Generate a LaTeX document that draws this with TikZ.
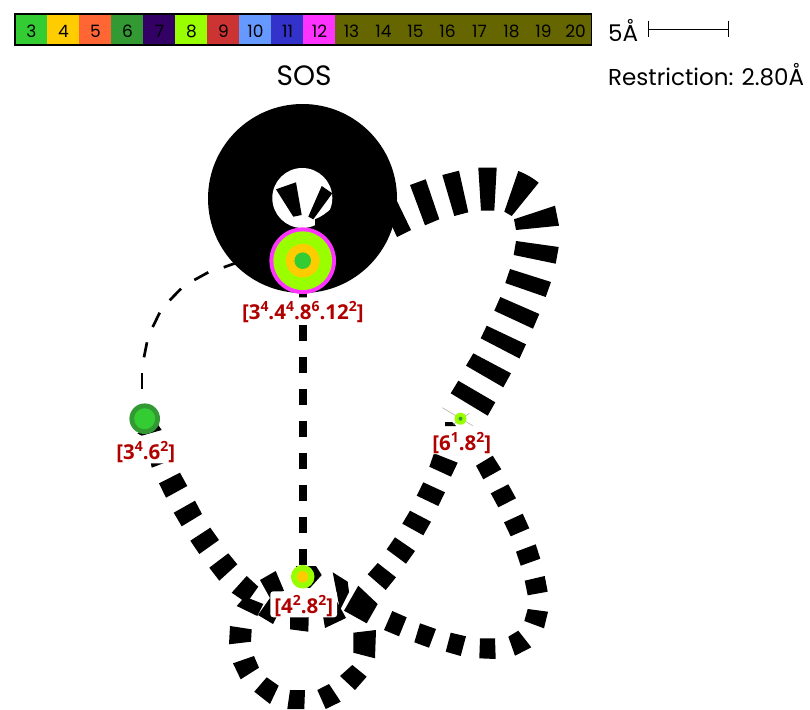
\documentclass[tikz,border=0pt]{standalone}
\usepackage{fontspec}
\setmainfont{Poppins}
\newfontfamily\labelfont{Open Sans}
\definecolor{sides3}{HTML}{33CC33}
\definecolor{sides4}{HTML}{FFCC00}
\definecolor{sides5}{HTML}{FF6633}
\definecolor{sides6}{HTML}{339933}
\definecolor{sides7}{HTML}{330066}
\definecolor{sides8}{HTML}{99FF00}
\definecolor{sides9}{HTML}{CC3333}
\definecolor{sides10}{HTML}{6699FF}
\definecolor{sides11}{HTML}{3333CC}
\definecolor{sides12}{HTML}{FF33FF}
\definecolor{sides13}{HTML}{666600}
\definecolor{vertexred}{HTML}{B00000}
\newcommand{\pw}[1]{\raisebox{0.38em}{\fontsize{14}{14}\selectfont #1}}
\tikzset{
  vertexlabel/.style={fill=white, rounded corners=3pt, anchor=base, text=vertexred, inner xsep=4pt, inner ysep=4pt,
    text height=18pt, text depth=0pt, font=\labelfont\bfseries\fontsize{20.5}{22}\selectfont},
  cellnum/.style={anchor=base, inner sep=0pt, font=\fontsize{17}{17}\selectfont},
  headtext/.style={anchor=base west, inner sep=0pt, font=\fontsize{23}{26}\selectfont}
}
\begin{document}
\begin{tikzpicture}[x=1pt, y=-1pt]
  \useasboundingbox (0,0) rectangle (810,709);
  \foreach \i/\col in {3/3, 4/4, 5/5, 6/6, 7/7, 8/8, 9/9, 10/10, 11/11, 12/12, 13/13, 14/13, 15/13, 16/13, 17/13, 18/13, 19/13, 20/13} {
    \fill[sides\col] ({15+(\i-3)*32}, 14) rectangle ({47+(\i-3)*32}, 45);
    \node[cellnum] (cell\i) at ({31.5+(\i-3)*32}, 37.3) {\i};
  }
  \draw[line width=1.4pt] (15,14) rectangle (591.5,45);
  \node[headtext] (scalelab) at (608,41.7) {5Å};
  \draw (647.7,29.3) -- (727.7,29.3);
  \draw (647.7,20.7) -- (647.7,37.3);
  \draw (727.7,20.7) -- (727.7,37.3);
  \node[headtext] (restrict) at (608,85) {Restriction: 2.80Å};
  \node[anchor=base, inner sep=0pt, font=\fontsize{28}{30}\selectfont] (title) at (304,85) {SOS};
  \foreach \y in {293,325,357,389,421,453,485,517,549}
    \fill (298.5,\y) rectangle (306.8,\y+16);
  \foreach \ax/\ay/\bx/\by in {142/373.3/142/389.3, 147/342.3/144/357.3, 159.7/312.7/152.7/327, 181/288.7/169.7/300.3, 208.3/272.3/194.3/280, 236.7/262.7/223.7/267.3}
    \draw[line width=2.7pt] (\ax,\ay) -- (\bx,\by);
  \foreach \ax/\ay/\bx/\by/\cx/\cy/\ex/\ey in {
    395/197/411/230/397/237/390/222,
    410/185/425.7/179.3/439.3/219.3/425/225.3,
    442.3/175/459/170.7/468.3/212.3/454.3/216,
    478.3/167.7/496.7/167.7/494.3/210.7/481/210.7,
    514/219.3/555/205.7/559/225.7/516/230,
    516/241/558.7/247/555.7/263.7/513.7/255,
    510/269/551/282/545.7/297/505.3/283,
    500.3/297/539.3/314/533/328.7/494.3/310.7,
    486.7/325.7/526/344.3/519.5/358.5/480.7/338.3,
    473.3/353.3/511/373.3/503.3/387.3/466/365.7,
    458.3/380.7/495.3/402.3/487.7/415.7/450.7/393.3,
    434/453.3/457.7/462.7/451/476.7/429.3/466.7,
    423.3/482.3/445/492.3/438.3/506/416.7/495.7,
    410/510.7/431/521.7/423.3/535.3/402.3/523.7,
    395/537.3/415/551/406/563.7/386.7/549.3,
    377.7/563/396/577.3/385.7/590/367.7/574.3,
    358.3/585.7/377.7/604/366.7/623.3/344/610.7,
    332.7/572.3/347.7/581.7/349/592/340/610,
    336/600/346/618/325/628/322/610,
    290/610/309/610/308.3/631.7/290/629.3,
    258/615/273/624/285/600/270/598,
    260/580/275.7/571/284/590.7/270/598,
    230/626/251.7/629.3/251/641.7/229/644.3,
    233/663.3/254/656/259/667.7/240.7/679.3,
    266.7/677.3/278.7/685.7/270/704/254.3/691.7,
    290/690/305/690/304.3/709/287.3/709,
    317.3/690/329/684/340.7/701.7/325.7/709,
    340/676/352.3/665/366.7/676.7/355/690,
    353.3/632.7/376/630/375/658.3/353.3/652.7,
    392.3/611/406.7/617.3/399/636.3/384/630,
    420/623.3/436/629/429/647.7/414.3/642.3,
    450.7/632.7/466/636.3/460.7/656/445.7/651.7,
    480/638.3/495/638.3/495.7/659/479.3/658.3,
    508.3/636.7/518.3/630.7/531.3/647.3/515/655.7,
    527.7/609/548/611.7/544/628.3/524.3/621,
    524.7/580.7/544.7/576/547.7/591.7/527.7/595.3,
    516/551.7/535.7/544.3/540.3/558.7/520.7/565.7,
    522.7/513.7/529.3/528.3/510.7/536.3/504/522.3,
    508.3/484.3/516/498.3/498.3/507.3/490.7/493.3,
    492.7/455.7/501.3/469.3/483.3/479.3/476/465.7,
    137.3/433.3/158.3/425/161.7/430/141.7/435.7,
    149.3/455/163.3/455/163.3/463.3/151.7/467.7,
    180/472.7/187.3/486/166/497.7/159/483.3,
    195/500.7/202/514/181.7/526.3/173.7/512.7,
    210.3/527.7/219/540/199.3/554/190.3/540.7,
    228.3/553.3/237.3/564.3/219.3/580.7/209.3/567.7,
    246.7/576/258.3/586.7/246.7/603/231.7/592.7,
    236.7/606/257.3/616/263.3/604/245/596.7}
    \fill (\ax,\ay) -- (\bx,\by) -- (\cx,\cy) -- (\ex,\ey) -- cycle;
  \fill (518.3,171) .. controls (526,174) and (533,178) .. (538.7,182.7) -- (511.7,216) -- (504.3,211.7) -- cycle;
  \fill (445,422) -- (452,422) -- (456,426) -- (445,426) -- cycle;
  \fill (296,566) -- (316,566) -- (321.7,575) -- (310,588) -- (296,586) -- cycle;
  \fill (302.5,198.5) circle [radius=94.5];
  \fill[white] (302.3,198) circle [radius=30];
  \fill (276,189.3) -- (296,182.3) -- (301.7,215) -- (293.3,216.7) -- cycle;
  \fill (321.7,186) -- (332.3,193.3) -- (313.3,219.3) -- (308.3,216.7) -- cycle;
  \fill (332.7,207.3) .. controls (327,213) and (321,217) .. (315,219.3) -- (315,229) -- (334,229) -- cycle;
  \draw[black!35, line width=0.5pt] (442.3,407.7) -- (472.7,425.7);
  \draw[black!35, line width=0.5pt] (453.3,424.3) -- (469.3,413.3);
  \node[vertexlabel] (lab1) at (302.8,319.3) {[3\pw{4}.4\pw{4}.8\pw{6}.12\pw{2}]};
  \node[vertexlabel] (lab2) at (145.8,459.3) {[3\pw{4}.6\pw{2}]};
  \node[vertexlabel] (lab3) at (303.7,613.3) {[4\pw{2}.8\pw{2}]};
  \node[vertexlabel] (lab4) at (461.7,450) {[6\pw{1}.8\pw{2}]};
  \foreach \px/\py/\rr/\col in {302.7/260.7/33.3/12, 302.7/260.7/29.3/8, 302.7/260.7/16.8/4, 302.7/260.7/8.3/3,
      144.7/418.7/15.3/6, 144.7/418.7/10.5/3, 302.7/576.7/11.8/8, 302.7/576.7/5.7/4, 460.5/418.7/6/8, 460.5/418.7/2/6}
    \fill[sides\col] (\px,\py) circle [radius=\rr];
\end{tikzpicture}
\end{document}
